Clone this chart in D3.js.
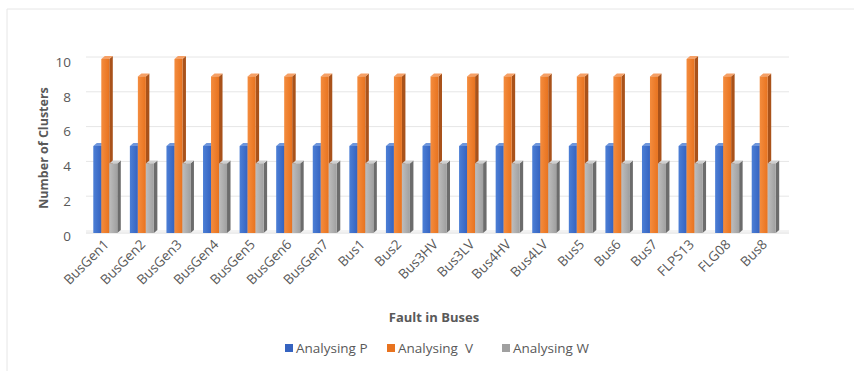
<!DOCTYPE html>
<html>
<head>
<meta charset="utf-8">
<script src="https://cdn.jsdelivr.net/npm/d3@7"></script>
<style>
  html, body { margin: 0; padding: 0; background: #fff; }
  svg { display: block; }
  text { font-family: "Open Sans", "Liberation Sans", sans-serif; }
</style>
</head>
<body>
<svg id="chart" width="854" height="371"></svg>
<script>
// Clusters found per faulted bus, for each analysed quantity
const categories = ["BusGen1", "BusGen2", "BusGen3", "BusGen4", "BusGen5", "BusGen6", "BusGen7",
  "Bus1", "Bus2", "Bus3HV", "Bus3LV", "Bus4HV", "Bus4LV", "Bus5", "Bus6", "Bus7",
  "FLPS13", "FLG08", "Bus8"];
const seriesNames = ["Analysing P", "Analysing  V", "Analysing W"];
const valuesP = [5, 5, 5, 5, 5, 5, 5, 5, 5, 5, 5, 5, 5, 5, 5, 5, 5, 5, 5];
const valuesV = [10, 9, 10, 9, 9, 9, 9, 9, 9, 9, 9, 9, 9, 9, 9, 9, 10, 9, 9];
const valuesW = [4, 4, 4, 4, 4, 4, 4, 4, 4, 4, 4, 4, 4, 4, 4, 4, 4, 4, 4];
const yTicks = [0, 2, 4, 6, 8, 10];

const seriesValues = [valuesP, valuesV, valuesW];
const palette = [
  { light: "#4c7fd6", base: "#3563c0", side: "#26478c", top: "#6f96dc" },
  { light: "#f48c3e", base: "#e8731f", side: "#a9521a", top: "#f5a066" },
  { light: "#bdbdbd", base: "#a0a0a0", side: "#6c6c6c", top: "#cfcfcf" }
];

const svg = d3.select("#chart");
const defs = svg.append("defs");
palette.forEach((p, i) => {
  const g = defs.append("linearGradient").attr("id", "front" + i)
    .attr("x1", "0").attr("x2", "1").attr("y1", "0").attr("y2", "0");
  g.append("stop").attr("offset", "0").attr("stop-color", p.light);
  g.append("stop").attr("offset", "1").attr("stop-color", p.base);
});

// faint outer frame
svg.append("path")
  .attr("d", "M7,371 V9 H854")
  .attr("fill", "none").attr("stroke", "#e6e6e6").attr("stroke-width", 1);

const x = d3.scaleBand().domain(categories).range([88, 783]).paddingInner(0).paddingOuter(0);
const y = d3.scaleLinear().domain([0, 10]).range([233, 59]);
const sub = d3.scaleBand().domain(d3.range(3)).range([-13, 11]);
const depthX = 3.5, depthY = -3;

// back-wall gridlines
svg.append("g").selectAll("line").data(yTicks).join("line")
  .attr("x1", 86).attr("x2", 789)
  .attr("y1", d => y(d) - 2).attr("y2", d => y(d) - 2)
  .attr("stroke", "#e6e6e6").attr("stroke-width", 1);
// floor edge
svg.append("line").attr("x1", 86).attr("x2", 789).attr("y1", y(0)).attr("y2", y(0))
  .attr("stroke", "#dcdcdc");

// y axis labels
const yAxis = d3.axisLeft(y).tickValues(yTicks).tickSize(0).tickPadding(0);
const yg = svg.append("g").attr("transform", "translate(71,3)").call(yAxis);
yg.select(".domain").remove();
yg.selectAll("text").attr("fill", "#595959").style("font-size", "13.5px")
  .style("font-family", "'Open Sans', sans-serif");

// 3D columns
const barsG = svg.append("g");
categories.forEach((cat, ci) => {
  const c = x(cat) + x.bandwidth() / 2;
  seriesValues.forEach((vals, si) => {
    const v = vals[ci];
    const x0 = c + sub(si), w = sub.bandwidth();
    const yt = y(v), yb = y(0);
    const p = palette[si];
    const g = barsG.append("g");
    // right side face
    g.append("path")
      .attr("d", `M${x0 + w},${yb} L${x0 + w},${yt} L${x0 + w + depthX},${yt + depthY} L${x0 + w + depthX},${yb + depthY} Z`)
      .attr("fill", p.side);
    // top face
    g.append("path")
      .attr("d", `M${x0},${yt} L${x0 + depthX},${yt + depthY} L${x0 + w + depthX},${yt + depthY} L${x0 + w},${yt} Z`)
      .attr("fill", p.top);
    // front face
    g.append("rect")
      .attr("x", x0).attr("y", yt).attr("width", w).attr("height", yb - yt)
      .attr("fill", `url(#front${si})`);
  });
});

// x axis labels
const xAxis = d3.axisBottom(x).tickSize(0).tickPadding(0);
const xg = svg.append("g").attr("transform", "translate(0,242)").call(xAxis);
xg.select(".domain").remove();
xg.selectAll("text")
  .attr("fill", "#595959").style("font-size", "13.5px")
  .style("font-family", "'Open Sans', sans-serif")
  .attr("text-anchor", "end")
  .attr("dy", "0.35em").attr("y", 0).attr("x", 0)
  .attr("transform", "rotate(-45)");

// axis titles
svg.append("text")
  .attr("transform", "translate(48,148) rotate(-90)")
  .attr("text-anchor", "middle").attr("fill", "#595959")
  .style("font-size", "12.5px").style("font-weight", "bold")
  .text("Number of Clusters");
svg.append("text")
  .attr("x", 434).attr("y", 322)
  .attr("text-anchor", "middle").attr("fill", "#595959")
  .style("font-size", "13px").style("font-weight", "bold")
  .text("Fault in Buses");

// legend
const legendX = [285, 387, 502];
const legend = svg.append("g").selectAll("g").data(seriesNames).join("g")
  .attr("transform", (d, i) => `translate(${legendX[i]},348)`);
legend.append("rect").attr("x", 0).attr("y", -4).attr("width", 8).attr("height", 8)
  .attr("fill", (d, i) => palette[i].base);
legend.append("text").attr("x", 11).attr("y", 0).attr("dy", "0.35em")
  .attr("fill", "#595959").style("font-size", "13.5px")
  .style("white-space", "pre").attr("xml:space", "preserve")
  .text(d => d);
</script>
</body>
</html>
